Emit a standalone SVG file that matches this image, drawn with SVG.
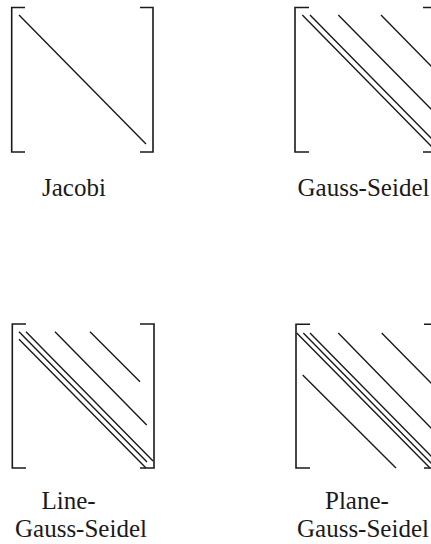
<svg xmlns="http://www.w3.org/2000/svg" width="431" height="544" viewBox="0 0 431 544">
<style>
.br{fill:none;stroke:#1a1a1a;stroke-width:1.6}
.ln{fill:none;stroke:#1a1a1a;stroke-width:1.4}
.lb{font-family:"Liberation Serif","Times New Roman",serif;font-size:25px;fill:#1a1a1a}
</style>
<rect width="431" height="544" fill="#fff"/>
<g id="jacobi">
<path class="br" d="M25,7.5H11.7V152H25M140,7.5H153V152H140"/>
<path class="ln" d="M19,15L146,144"/>
<text class="lb" x="42" y="196">Jacobi</text>
</g>
<g id="gauss-seidel">
<path class="br" d="M309,7.5H295V152H309M423,7.5H437V152H423"/>
<path class="ln" d="M302.3,15L433,148M310,15L433,140M338.3,15L433,111M381,15L433,68"/>
<text class="lb" x="297.5" y="196">Gauss-Seidel</text>
</g>
<g id="line-gauss-seidel">
<path class="br" d="M26,324H12.3V468H26M140,324H154V468H140"/>
<path class="ln" d="M19,331.7L147,462M26,331.7L153,461M19,339.3L146,468M55,331.7L146.7,425M90,331.7L140,381.7"/>
<text class="lb" x="41.5" y="509">Line-</text>
<text class="lb" x="15" y="536.5">Gauss-Seidel</text>
</g>
<g id="plane-gauss-seidel">
<path class="br" d="M310,324.3H296V468H310M424,324.3H438V468H424"/>
<path class="ln" d="M296.7,333L430,468M303.3,333L433,465M310,333L433,458M338.3,333L433,430M381.7,333L433,385M302.7,375L396,468"/>
<text class="lb" x="325" y="509">Plane-</text>
<text class="lb" x="297" y="536.5">Gauss-Seidel</text>
</g>
<g id="connectors"/>
</svg>
